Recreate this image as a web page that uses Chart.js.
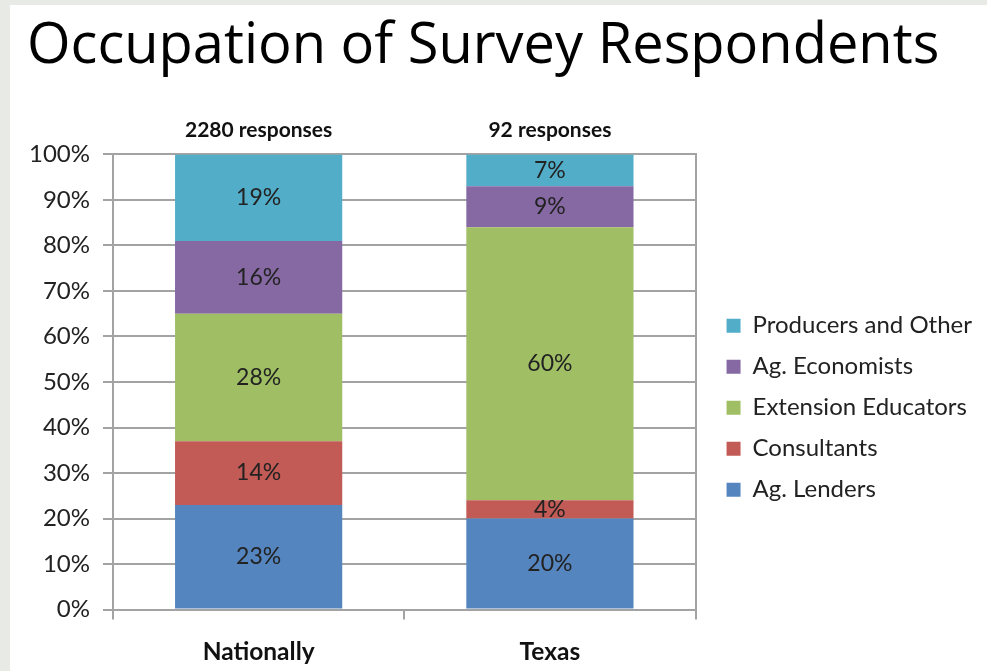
<!DOCTYPE html>
<html>
<head>
<meta charset="utf-8">
<script src="https://cdn.jsdelivr.net/npm/chart.js@4/dist/chart.umd.min.js"></script>
<style>
  html, body { margin: 0; padding: 0; background: #e8ebe5; overflow: hidden; }
  #wrap { position: absolute; left: 10px; top: 5px; width: 977px; height: 680px; background: #fff; }
</style>
</head>
<body>
<div id="wrap"><canvas id="chart"></canvas></div>
<script>
const categories = ['Nationally', 'Texas'];
const responseLabels = ['2280 responses', '92 responses'];
const agLenders = [23, 20];
const consultants = [14, 4];
const extensionEducators = [28, 60];
const agEconomists = [16, 9];
const producersOther = [19, 7];

const FONT = 'Lato, "Open Sans", sans-serif';
const TITLE_FONT = '"Open Sans", Lato, sans-serif';
const GRID = '#a3a3a3';

// writes each segment's value in the middle of its bar piece
const segmentLabels = {
  id: 'segmentLabels',
  afterDatasetsDraw(chart) {
    const ctx = chart.ctx;
    ctx.save();
    ctx.font = '23px ' + FONT;
    ctx.fillStyle = '#222';
    ctx.textAlign = 'center';
    ctx.textBaseline = 'middle';
    chart.data.datasets.forEach((ds, i) => {
      chart.getDatasetMeta(i).data.forEach((bar, j) => {
        ctx.fillText(ds.data[j] + '%', bar.x, (bar.y + bar.base) / 2);
      });
    });
    ctx.restore();
  }
};

function drawChart() {
  new Chart(document.getElementById('chart'), {
    type: 'bar',
    data: {
      labels: categories,
      datasets: [
        { label: 'Ag. Lenders', data: agLenders, backgroundColor: '#5585bf' },
        { label: 'Consultants', data: consultants, backgroundColor: '#c25a55' },
        { label: 'Extension Educators', data: extensionEducators, backgroundColor: '#a0bf64' },
        { label: 'Ag. Economists', data: agEconomists, backgroundColor: '#8668a3' },
        { label: 'Producers and Other', data: producersOther, backgroundColor: '#52adc8' }
      ]
    },
    options: {
      responsive: true,
      maintainAspectRatio: false,
      animation: false,
      barPercentage: 0.574,
      categoryPercentage: 1,
      layout: { padding: { left: 17, right: 5, bottom: 0 } },
      scales: {
        x: {
          stacked: true,
          offset: true,
          grid: {
            offset: true,
            color: c => c.index === 1 ? 'rgba(0,0,0,0)' : GRID,
            tickColor: GRID,
            lineWidth: 2,
            tickLength: 10
          },
          border: { color: GRID, width: 2 },
          ticks: { color: '#111', padding: 18, font: { family: FONT, size: 24.5, weight: 'bold' } }
        },
        top: {
          type: 'category',
          labels: responseLabels,
          position: 'top',
          offset: true,
          grid: { display: false },
          border: { display: false },
          ticks: { color: '#111', padding: 4, font: { family: FONT, size: 21, weight: 'bold' } }
        },
        y: {
          stacked: true,
          min: 0,
          max: 100,
          afterFit: s => { s.width = 86; },
          ticks: {
            stepSize: 10,
            callback: v => v + '%',
            color: '#222',
            padding: 13,
            font: { family: FONT, size: 24 }
          },
          grid: { color: GRID, lineWidth: 2, tickLength: 10 },
          border: { color: GRID, width: 2 }
        },
        // right frame line of the plot, also leaves the gap before the legend
        right: {
          position: 'right',
          min: 0,
          max: 100,
          ticks: { display: false },
          grid: { drawOnChartArea: false, tickLength: 14, tickColor: 'rgba(0,0,0,0)' },
          border: { color: GRID, width: 2 }
        }
      },
      plugins: {
        title: {
          display: true,
          text: 'Occupation of Survey Respondents',
          align: 'start',
          color: '#000',
          font: { family: TITLE_FONT, size: 56, weight: 'normal' },
          padding: { top: 8, bottom: 33 }
        },
        legend: {
          position: 'right',
          reverse: true,
          maxWidth: 320,
          title: { display: true, text: '', font: { size: 12 }, padding: { top: 111, bottom: 0 } },
          labels: {
            boxWidth: 14,
            boxHeight: 14,
            padding: 17,
            color: '#222',
            font: { family: FONT, size: 24 }
          }
        },
        tooltip: { enabled: false }
      }
    },
    plugins: [segmentLabels]
  });
}

Promise.all([
  document.fonts.load('24px Lato'),
  document.fonts.load('bold 24px Lato'),
  document.fonts.load('56px "Open Sans"')
]).then(drawChart, drawChart);
</script>
</body>
</html>
